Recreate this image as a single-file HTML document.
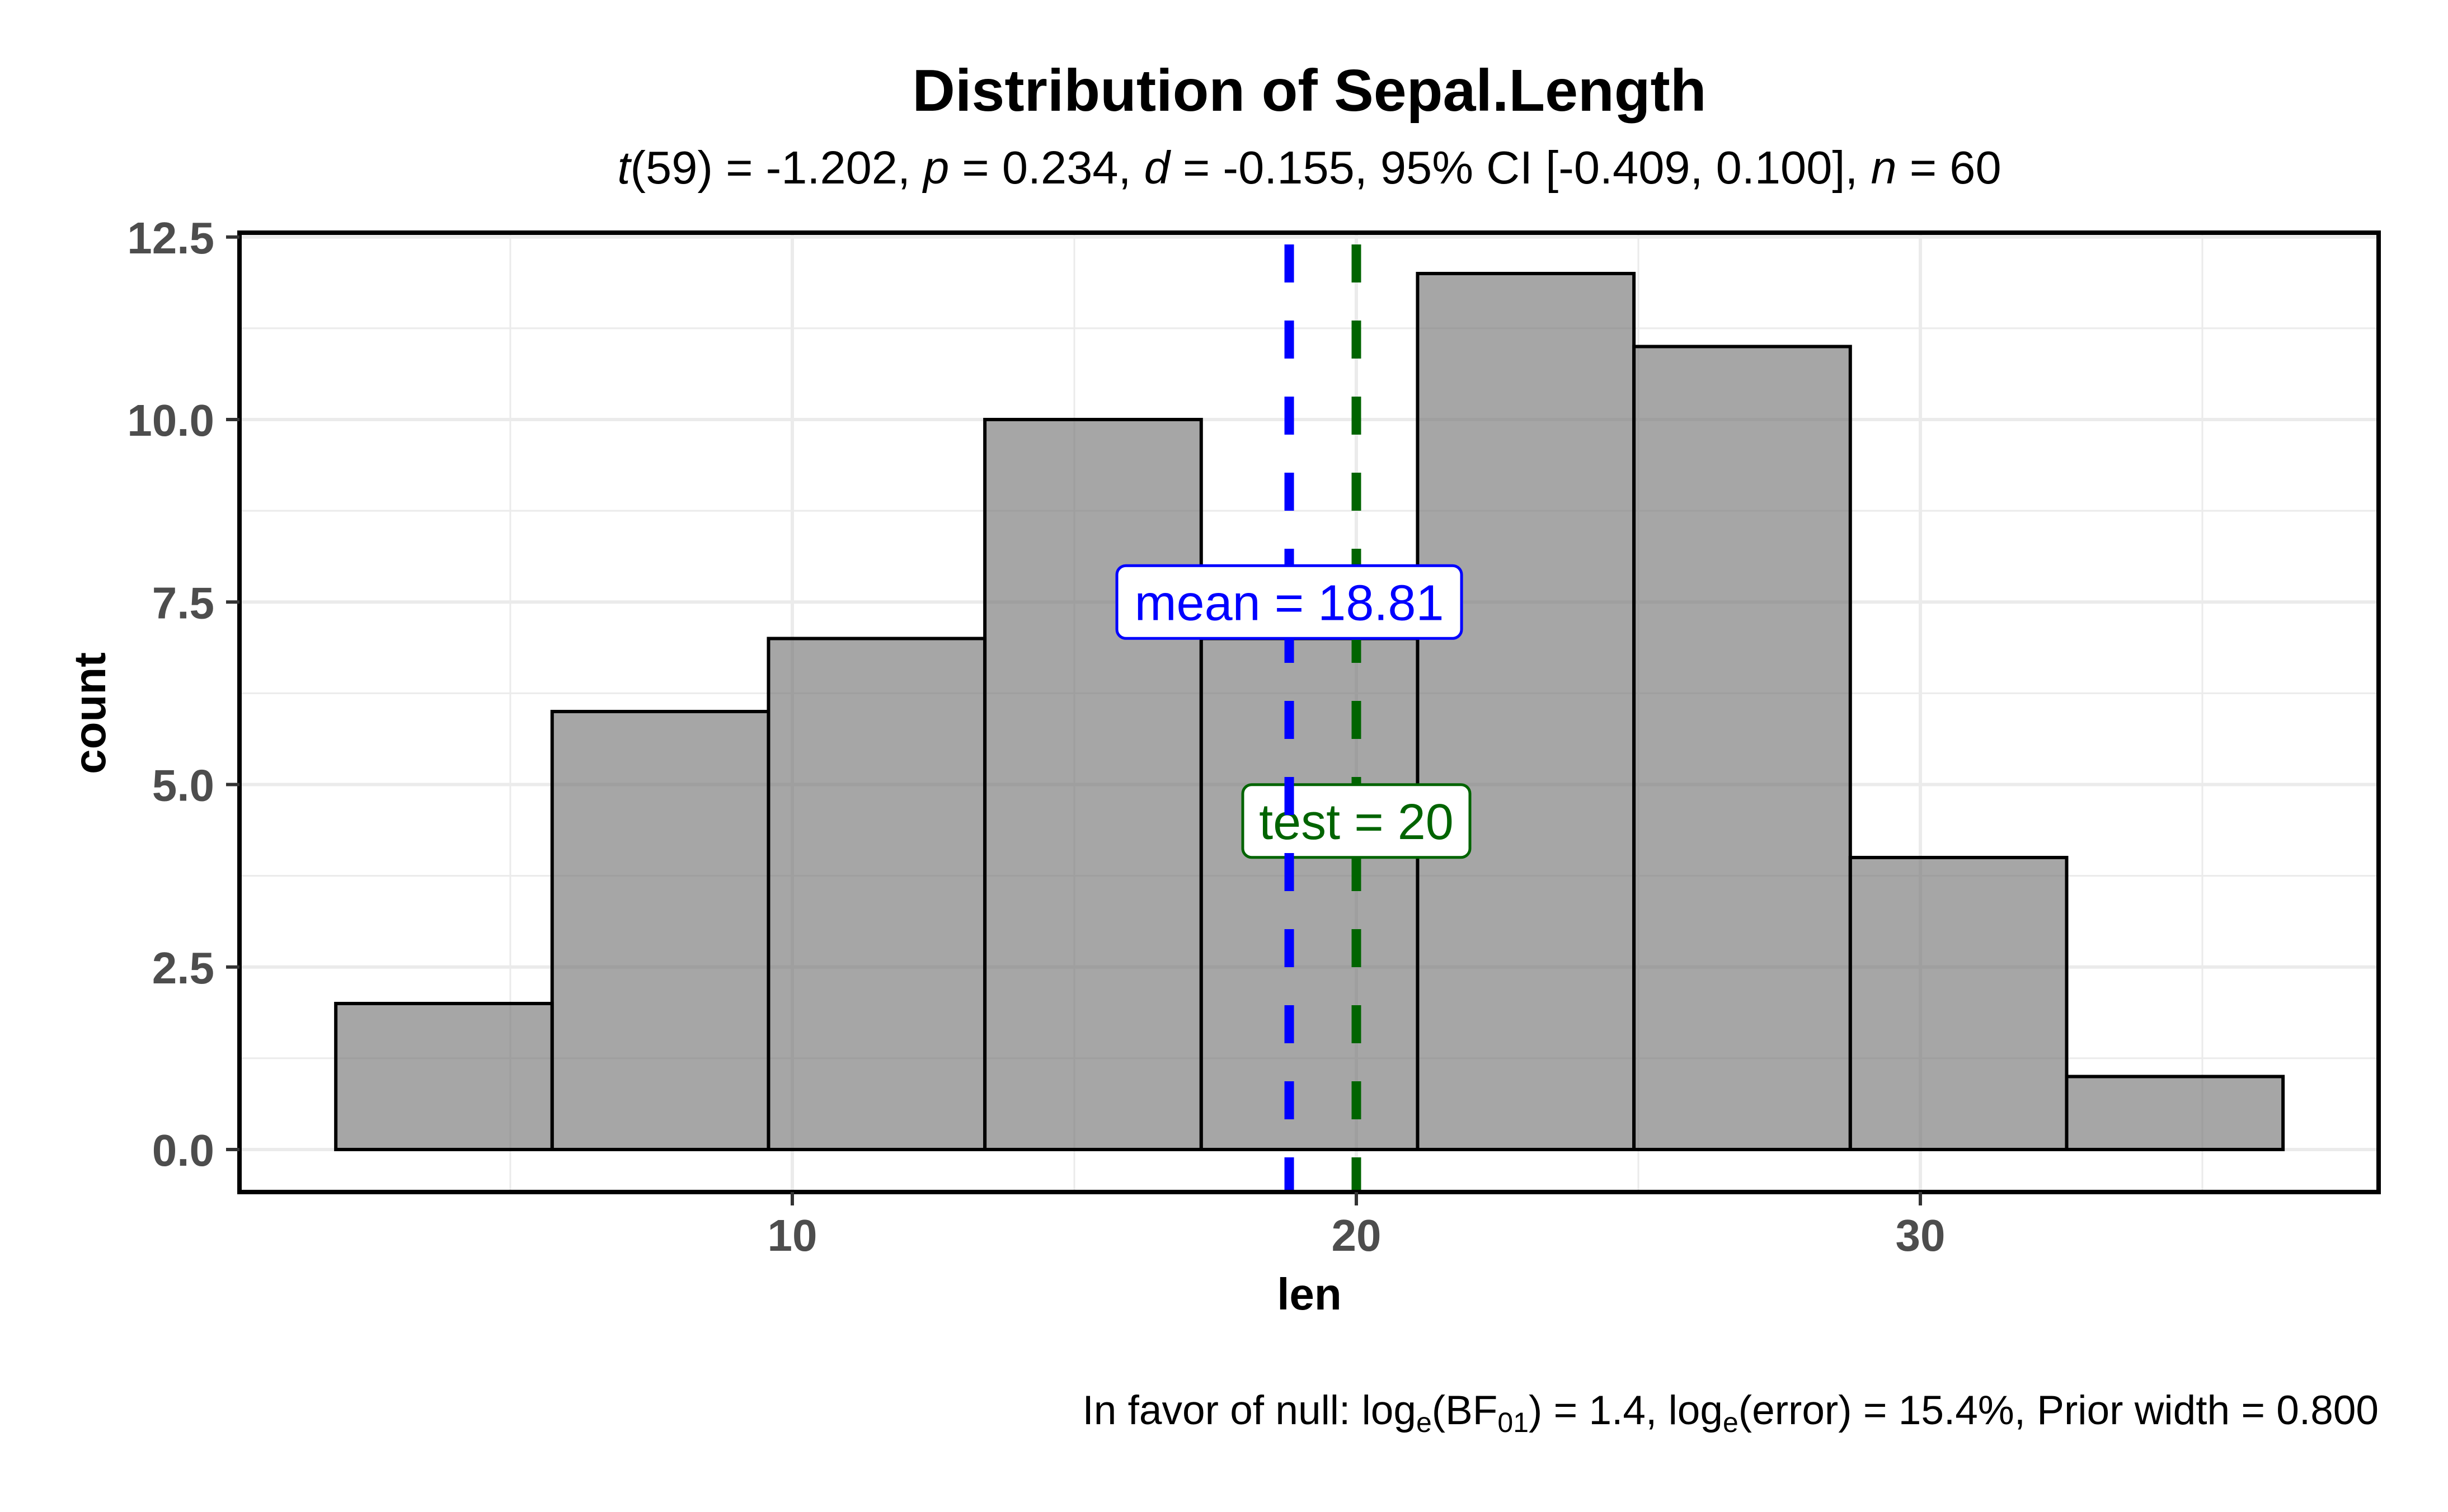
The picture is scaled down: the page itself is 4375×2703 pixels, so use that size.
<!DOCTYPE html>
<html><head><meta charset="utf-8"><style>
html,body{margin:0;padding:0;background:#fff;}
svg{display:block;font-family:"Liberation Sans",Arial,sans-serif;}
</style></head><body>
<svg id="chart" width="4375" height="2703" viewBox="0 0 4375 2703" xmlns="http://www.w3.org/2000/svg">
<rect x="0" y="0" width="4375" height="2703" fill="#fff"/>
<text x="2340" y="198" text-anchor="middle" font-size="106" font-weight="bold" fill="#000">Distribution of Sepal.Length</text>
<text x="2340" y="328" text-anchor="middle" font-size="83" fill="#000"><tspan font-style="italic">t</tspan>(59) = -1.202, <tspan font-style="italic">p</tspan> = 0.234, <tspan font-style="italic">d</tspan> = -0.155, 95% CI [-0.409, 0.100], <tspan font-style="italic">n</tspan> = 60</text>
<g id="grid"></g>
<g id="bars"></g>
<g id="refs"></g>
<rect x="428" y="416" width="3823" height="1715" fill="none" stroke="#000" stroke-width="8"/>
<g id="axes"></g>
<text x="0" y="0" transform="translate(188,1275) rotate(-90)" text-anchor="middle" font-size="80" font-weight="bold" fill="#000">count</text>
<text x="2340" y="2341" text-anchor="middle" font-size="80" font-weight="bold" fill="#000">len</text>
<text x="4251" y="2546" text-anchor="end" font-size="73" fill="#000">In favor of null: log<tspan font-size="50" dy="14">e</tspan><tspan dy="-14">(BF</tspan><tspan font-size="50" dy="14">01</tspan><tspan dy="-14">) = 1.4, log</tspan><tspan font-size="50" dy="14">e</tspan><tspan dy="-14">(error) = 15.4%, Prior width = 0.800</tspan></text>
</svg>
<script>
const binStart = 1.906;
const binWidth = 3.836;
const counts = [2, 6, 7, 10, 7, 12, 11, 4, 1];
const xTicks = [10, 20, 30];
const xTickLabels = ["10", "20", "30"];
const xMinor = [5, 15, 25, 35];
const yTicks = [0, 2.5, 5, 7.5, 10, 12.5];
const yTickLabels = ["0.0", "2.5", "5.0", "7.5", "10.0", "12.5"];
const yMinor = [1.25, 3.75, 6.25, 8.75, 11.25];
const meanValue = 18.81;
const testValue = 20;
const meanLabelY = 7.5;
const testLabelY = 4.5;

const NS = "http://www.w3.org/2000/svg";
const PL = 428, PR = 4251, PT = 416, PB = 2131;
function xs(v){ return 2424 + (v - 20) * 100.8; }
function ys(v){ return 2055 - v * 130.5; }
function mk(tag, attrs, parent){
  const e = document.createElementNS(NS, tag);
  for (const k in attrs) e.setAttribute(k, attrs[k]);
  parent.appendChild(e);
  return e;
}
const grid = document.getElementById('grid');
const bars = document.getElementById('bars');
const refs = document.getElementById('refs');
const axes = document.getElementById('axes');

xMinor.forEach(v => {
  const l = mk('line', {x1: xs(v), x2: xs(v), y1: PT, y2: PB, stroke: '#ebebeb', 'stroke-width': 3}, grid);
  
  
});
yMinor.forEach(v => {
  const l = mk('line', {x1: PL, x2: PR, y1: ys(v), y2: ys(v), stroke: '#ebebeb', 'stroke-width': 3}, grid);
  
  
});
xTicks.forEach(v => {
  const l = mk('line', {x1: xs(v), x2: xs(v), y1: PT, y2: PB, stroke: '#ebebeb', 'stroke-width': 6}, grid);
  
  
});
yTicks.forEach(v => {
  const l = mk('line', {x1: PL, x2: PR, y1: ys(v), y2: ys(v), stroke: '#ebebeb', 'stroke-width': 6}, grid);
  
  
});

counts.forEach((c, i) => {
  const x0 = xs(binStart + i * binWidth), x1 = xs(binStart + (i + 1) * binWidth);
  const r = mk('rect', {x: x0, y: ys(c), width: x1 - x0, height: ys(0) - ys(c), fill: '#767676', 'fill-opacity': 0.65, stroke: '#000', 'stroke-width': 6}, bars);
  
  
});

function refLine(v, color, name){
  const l = mk('line', {x1: xs(v), x2: xs(v), y1: PT + 4, y2: PB - 4, stroke: color, 'stroke-width': 17, 'stroke-dasharray': '68 68', 'stroke-dashoffset': -17}, refs);
  
  
}
function refLabel(v, yv, w, color, txt, name){
  const g = mk('g', {}, refs);
  
  
  const cx = xs(v), cy = ys(yv);
  mk('rect', {x: cx - w / 2, y: cy - 65, width: w, height: 130, rx: 16, fill: '#fff', stroke: color, 'stroke-width': 5}, g);
  const t = mk('text', {x: cx, y: cy + 32, 'text-anchor': 'middle', 'font-size': 90, fill: color}, g);
  t.textContent = txt;
}
refLine(testValue, '#006400', 'test-value-line');
refLabel(testValue, testLabelY, 406, '#006400', 'test = ' + testValue, 'test-value-label');
refLine(meanValue, '#0000ff', 'mean-line');
refLabel(meanValue, meanLabelY, 616, '#0000ff', 'mean = ' + meanValue.toFixed(2), 'mean-label');

yTicks.forEach((v, i) => {
  const tk = mk('line', {x1: 404, x2: 428, y1: ys(v), y2: ys(v), stroke: '#333', 'stroke-width': 6}, axes);
  
  
  const t = mk('text', {x: 383, y: ys(v) + 29, 'text-anchor': 'end', 'font-size': 80, 'font-weight': 'bold', fill: '#4d4d4d'}, axes);
  
  
  t.textContent = yTickLabels[i];
});
xTicks.forEach((v, i) => {
  const tk = mk('line', {x1: xs(v), x2: xs(v), y1: 2131, y2: 2155, stroke: '#333', 'stroke-width': 6}, axes);
  
  
  const t = mk('text', {x: xs(v), y: 2236, 'text-anchor': 'middle', 'font-size': 80, 'font-weight': 'bold', fill: '#4d4d4d'}, axes);
  
  
  t.textContent = xTickLabels[i];
});
</script>
</body></html>
